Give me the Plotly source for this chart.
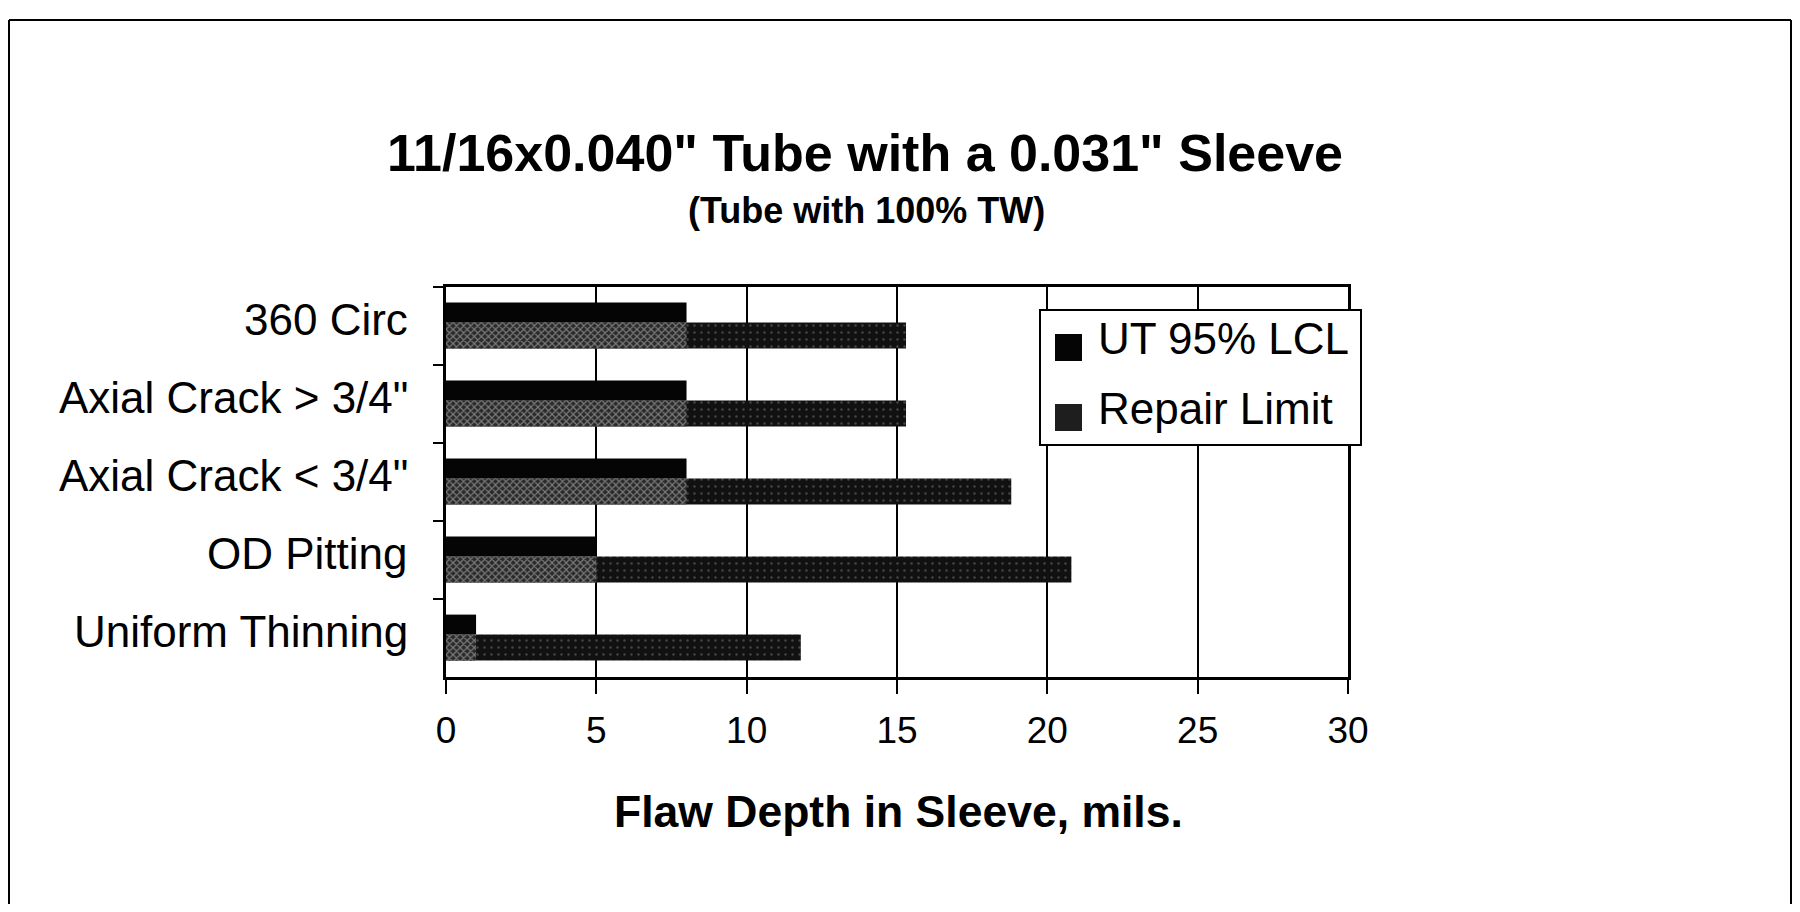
import plotly.graph_objects as go

categories = ["360 Circ", "Axial Crack > 3/4\"", "Axial Crack < 3/4\"", "OD Pitting", "Uniform Thinning"]
ut_95_lcl = [8.0, 8.0, 8.0, 5.0, 1.0]
repair_limit = [15.3, 15.3, 18.8, 20.8, 11.8]
x_ticks = [0, 5, 10, 15, 20, 25, 30]
series_names = ["UT 95% LCL", "Repair Limit"]

title_text = "<b>11/16x0.040\" Tube with a 0.031\" Sleeve</b>"
subtitle_text = "<b>(Tube with 100% TW)</b>"
xaxis_title = "<b>Flaw Depth in Sleeve, mils.</b>"

overlap = [min(a, b) for a, b in zip(ut_95_lcl, repair_limit)]

fig = go.Figure()
fig.add_trace(go.Bar(
    y=categories, x=ut_95_lcl, orientation="h", name=series_names[0],
    offset=-0.30, width=0.255, marker=dict(color="#050505", line=dict(width=0)),
    showlegend=False,
))
fig.add_trace(go.Bar(
    y=categories, x=repair_limit, orientation="h", name=series_names[1],
    offset=-0.045, width=0.335,
    marker=dict(color="#111111", line=dict(width=0),
                pattern=dict(shape=".", fgcolor="#7a7a7a", bgcolor="#111111", size=7, solidity=0.1)),
    showlegend=False,
))
fig.add_trace(go.Bar(
    y=categories, x=overlap, orientation="h", name=series_names[1],
    offset=-0.045, width=0.335,
    marker=dict(color="#3a3a3a", line=dict(width=0),
                pattern=dict(shape="x", fgcolor="#d0d0d0", bgcolor="#2a2a2a", size=5, solidity=0.4)),
    showlegend=False, hoverinfo="skip",
))

# page body has an 8px margin; figure sized so the page does not scroll
FW, FH = 1784, 896
OFF = 8
L, R, T, B = 446 - OFF, FW - (1348 - OFF), 287 - OFF, FH - (677 - OFF)
W, H = FW - L - R, FH - T - B

def px(x):  # page x -> paper
    return (x - OFF - L) / W

def py(y):  # page y -> paper
    return (FH - B - (y - OFF)) / H

shapes = []
for (x0, y0, x1, y1) in [(9, 20, 1791, 20), (9, 20, 9, 915), (1791, 20, 1791, 915)]:
    shapes.append(dict(type="line", xref="paper", yref="paper",
                       x0=px(x0), y0=py(y0), x1=px(x1), y1=py(y1),
                       line=dict(color="black", width=2)))
shapes.append(dict(type="rect", xref="paper", yref="paper",
                   x0=px(1040), x1=px(1361), y0=py(445), y1=py(310),
                   line=dict(color="black", width=2), fillcolor="white", layer="above"))
shapes.append(dict(type="rect", xref="paper", yref="paper",
                   x0=px(1055), x1=px(1082), y0=py(361), y1=py(334),
                   line=dict(width=0), fillcolor="#050505", layer="above"))
shapes.append(dict(type="rect", xref="paper", yref="paper",
                   x0=px(1055), x1=px(1082), y0=py(431), y1=py(404),
                   line=dict(width=0), fillcolor="#1e1e1e", layer="above"))

annotations = [
    dict(text=title_text, xref="paper", yref="paper", x=px(865), y=py(153),
         xanchor="center", yanchor="middle", showarrow=False,
         font=dict(family="Liberation Sans", size=52, color="black")),
    dict(text=subtitle_text, xref="paper", yref="paper", x=px(866), y=py(210),
         xanchor="center", yanchor="middle", showarrow=False,
         font=dict(family="Liberation Sans", size=36, color="black")),
    dict(text=xaxis_title, xref="paper", yref="paper", x=px(898), y=py(811),
         xanchor="center", yanchor="middle", showarrow=False,
         font=dict(family="Liberation Sans", size=44.5, color="black")),
    dict(text=series_names[0], xref="paper", yref="paper", x=px(1096), y=py(338),
         xanchor="left", yanchor="middle", showarrow=False,
         font=dict(family="Liberation Sans", size=44, color="black")),
    dict(text=series_names[1], xref="paper", yref="paper", x=px(1096), y=py(408),
         xanchor="left", yanchor="middle", showarrow=False,
         font=dict(family="Liberation Sans", size=44, color="black")),
]
# category labels (as annotations so they can sit slightly above the group centre, as in the original)
for cat in categories:
    annotations.append(dict(text=cat, xref="paper", yref="y", x=px(410), y=cat,
                            xanchor="right", yanchor="middle", yshift=7, showarrow=False,
                            font=dict(family="Liberation Sans", size=44, color="black")))

fig.update_layout(
    width=FW, height=FH,
    margin=dict(l=L, r=R, t=T, b=B, pad=0),
    paper_bgcolor="white", plot_bgcolor="white",
    barmode="overlay",
    shapes=shapes, annotations=annotations,
    showlegend=False,
    xaxis=dict(range=[0, 30], tickvals=x_ticks, ticktext=[str(v) for v in x_ticks],
               showgrid=True, gridcolor="black", gridwidth=2,
               showline=True, linecolor="black", linewidth=3, mirror=True,
               ticks="outside", ticklen=14, tickwidth=2, tickcolor="black",
               zeroline=False, ticklabelstandoff=5,
               tickfont=dict(family="Liberation Sans", size=37, color="black")),
    yaxis=dict(type="category", categoryorder="array", categoryarray=categories,
               autorange="reversed", tickson="boundaries", showticklabels=False,
               showgrid=False, showline=True, linecolor="black", linewidth=3, mirror=True,
               ticks="outside", ticklen=10, tickwidth=2, tickcolor="black"),
)

fig.write_html("out.html")
